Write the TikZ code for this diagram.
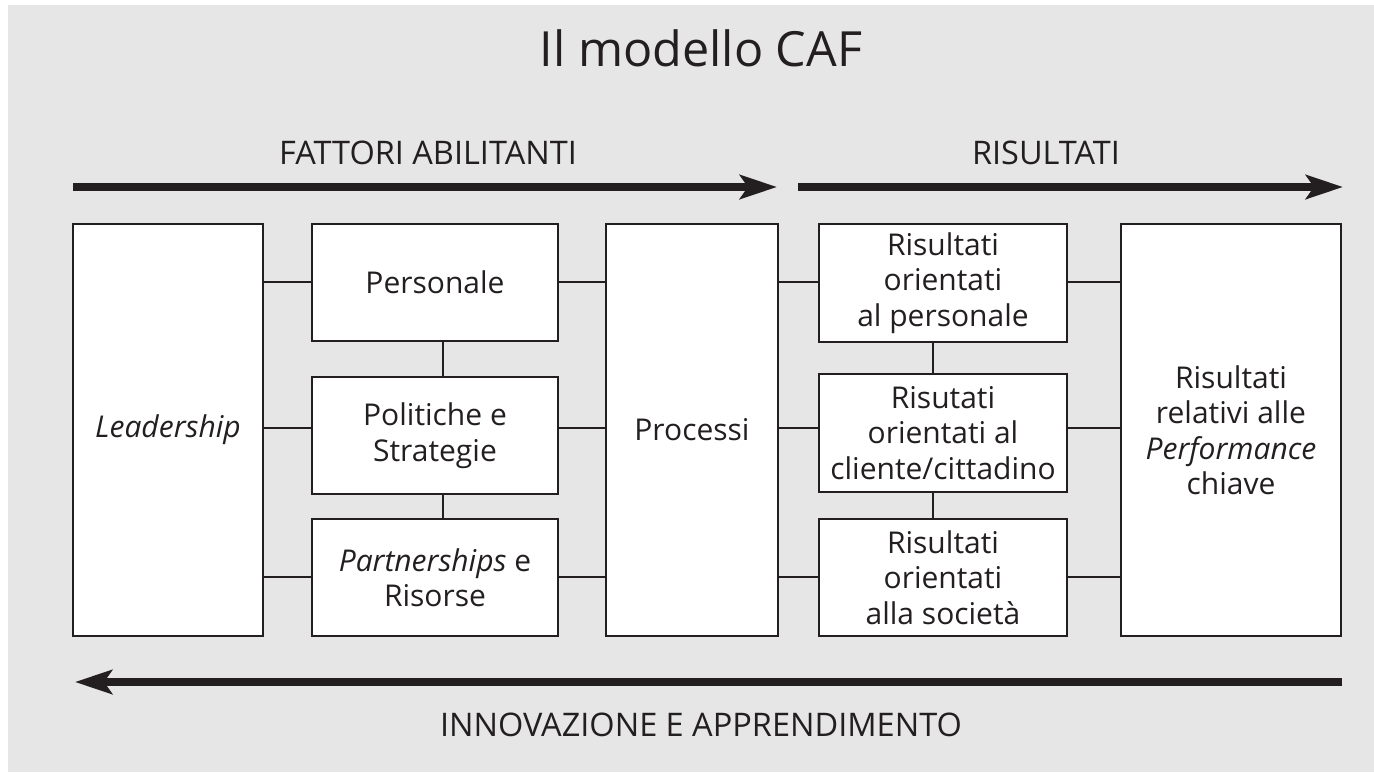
\documentclass[tikz,border=0pt]{standalone}
\usepackage{fontspec}
\setmainfont{Open Sans}
\usetikzlibrary{arrows.meta}
\definecolor{bg}{HTML}{E6E6E6}
\definecolor{ink}{HTML}{231F20}
\begin{document}
\begin{tikzpicture}[x=1pt,y=-1pt,
  box/.style={draw=ink, line width=2.2pt, fill=white, align=center,
    font=\fontsize{30}{35.5}\selectfont, text=ink, inner sep=0pt},
  link/.style={draw=ink, line width=2pt},
  bigarrow/.style={draw=ink, line width=8pt,
    -{Stealth[length=37pt,width=24pt,inset=8pt]}},
  heading/.style={font=\fontsize{32.5}{38}\selectfont, text=ink, anchor=base, inner sep=0pt},
  titlestyle/.style={font=\fontsize{48.5}{56}\selectfont, text=ink, anchor=base, inner sep=0pt}]
\useasboundingbox (0,0) rectangle (1374,772);
\fill[bg] (8,5) rectangle (1374,772);

% headings
\node[titlestyle] (title) at (701,66) {Il modello CAF};
\node[heading] (fa) at (428,164) {FATTORI ABILITANTI};
\node[heading] (ri) at (1046,164) {RISULTATI};
\node[heading] (ia) at (701,736) {INNOVAZIONE E APPRENDIMENTO};

% arrows
\coordinate (a1s) at (73,187);
\coordinate (a1e) at (777,187);
\coordinate (a2s) at (798,187);
\coordinate (a2e) at (1343,187);
\coordinate (a3s) at (1342,682);
\coordinate (a3e) at (75,682);
\draw[bigarrow] (a1s) -- (a1e);
\draw[bigarrow] (a2s) -- (a2e);
\draw[bigarrow] (a3s) -- (a3e);

% boxes
\node[box, minimum width=190pt, minimum height=412pt] (lead) at (168,430) {\textit{Leadership}};
\node[box, minimum width=246pt, minimum height=117pt] (pers) at (435,282.5) {Personale};
\node[box, minimum width=246pt, minimum height=117pt] (pol) at (435,435.5) {Politiche e\\Strategie};
\node[box, minimum width=246pt, minimum height=117pt] (part) at (435,577.5) {\textit{Partnerships} e\\Risorse};
\node[box, minimum width=172pt, minimum height=412pt] (proc) at (692,430) {Processi};
\node[box, minimum width=248pt, minimum height=118pt] (rp) at (943,283) {Risultati\\orientati\\al personale};
\node[box, minimum width=248pt, minimum height=118pt] (rc) at (943,433) {Risutati\\orientati al\\cliente/cittadino};
\node[box, minimum width=248pt, minimum height=117pt] (rs) at (943,577.5) {Risultati\\orientati\\alla società};
\node[box, minimum width=220pt, minimum height=412pt] (perf) at (1231,430) {Risultati\\relativi alle\\\textit{Performance}\\chiave};

% connector levels
\coordinate (y1) at (0,282);
\coordinate (y2) at (0,428);
\coordinate (y3) at (0,577);
\coordinate (xl) at (443,0);
\coordinate (xr) at (933,0);

\draw[link] (lead.east |- y1) -- (pers.west |- y1);
\draw[link] (lead.east |- y2) -- (pol.west |- y2);
\draw[link] (lead.east |- y3) -- (part.west |- y3);
\draw[link] (pers.east |- y1) -- (proc.west |- y1);
\draw[link] (pol.east |- y2) -- (proc.west |- y2);
\draw[link] (part.east |- y3) -- (proc.west |- y3);
\draw[link] (pers.south -| xl) -- (pol.north -| xl);
\draw[link] (pol.south -| xl) -- (part.north -| xl);
\draw[link] (proc.east |- y1) -- (rp.west |- y1);
\draw[link] (proc.east |- y2) -- (rc.west |- y2);
\draw[link] (proc.east |- y3) -- (rs.west |- y3);
\draw[link] (rp.south -| xr) -- (rc.north -| xr);
\draw[link] (rc.south -| xr) -- (rs.north -| xr);
\draw[link] (rp.east |- y1) -- (perf.west |- y1);
\draw[link] (rc.east |- y2) -- (perf.west |- y2);
\draw[link] (rs.east |- y3) -- (perf.west |- y3);
\end{tikzpicture}
\end{document}
